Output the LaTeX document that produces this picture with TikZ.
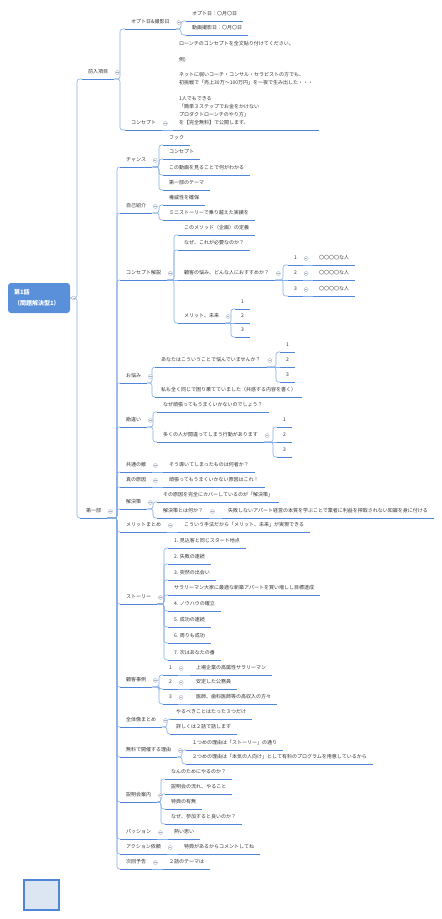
\documentclass[tikz,border=0pt]{standalone}
\usepackage{fontspec}
\setmainfont{Noto Sans CJK JP}
\usetikzlibrary{calc}
\definecolor{ublue}{HTML}{4F86D8}
\definecolor{cblue}{HTML}{86ADE6}
\definecolor{rootblue}{HTML}{5A8FDA}
\definecolor{txt}{HTML}{333333}
\definecolor{btngray}{HTML}{A9B4C6}
\definecolor{sqfill}{HTML}{DCE6F2}
\tikzset{
  tfont/.style={font=\fontsize{5}{7.9}\selectfont, text=txt},
  uline/.style={draw=ublue, line width=1pt},
  topic/.style={tfont, anchor=south west, inner xsep=6pt, inner ysep=5pt,
    text height=4.4pt, text depth=0.6pt,
    append after command={(\tikzlastnode.south west) edge[uline] (\tikzlastnode.south east)}},
  mtopic/.style={tfont, anchor=south west, inner xsep=6pt, inner ysep=5pt, align=left,
    append after command={(\tikzlastnode.south west) edge[uline] (\tikzlastnode.south east)}},
  conn/.style={draw=cblue, line width=0.6pt, rounded corners=2.5pt},
  rootbox/.style={fill=rootblue, rounded corners=3pt, minimum width=62pt, minimum height=30pt,
    text width=50pt, align=left, text=white, inner sep=0pt,
    font=\bfseries\fontsize{6}{11}\selectfont},
  pics/colbtn/.style={code={
    \draw[btngray, line width=0.4pt, fill=white] (0,0) circle[radius=2pt];
    \draw[btngray, line width=0.4pt] (-1.1pt,0) -- (1.1pt,0);}},
}
\newcommand\mmbtn[1]{\path (#1.south east) ++(3,-6.5) pic{colbtn};}
\newcommand\mmfork[3]{%
  \foreach \ch in {#3}{\draw[conn] (#1.south east) -- (#2,0 |- #1.south east) |- (\ch.south west);}%
  \mmbtn{#1}}
\newcommand\mmline[2]{\draw[conn] (#1.south east) -- (#2.south west);}
\newcommand\mmone[2]{\mmline{#1}{#2}\mmbtn{#1}}
\begin{document}
\begin{tikzpicture}[x=1pt,y=-1pt]
\useasboundingbox (0,0) rectangle (442,919);
% root
\node[rootbox] (root) at (39,298) {第1話\\（問題解決型1）};
% level 1
\node[topic] (a) at (82,79) {前入項目};
\node[topic] (b) at (80,518) {第一部};
% under a
\node[topic] (a1) at (125,29) {オプト日\&撮影日};
\node[topic] (a2) at (125,130) {コンセプト};
\node[topic] (a11) at (186,21) {オプト日：〇月〇日};
\node[topic] (a12) at (186,35) {動画撮影日：〇月〇日};
\node[mtopic] (a21) at (173,130) {ローンチのコンセプトを全文貼り付けてください。\\[7.9pt]
例)\\[7.9pt]
ネットに弱いコーチ・コンサル・セラピストの方でも、\\
初挑戦で「売上30万～100万円」を一夜で生み出した・・・\\[7.9pt]
1人でもできる\\
「簡単３ステップでお金をかけない\\
プロダクトローンチのやり方」\\
を【完全無料】で公開します。};
% under b
\node[topic] (c1) at (120,167) {チャンス};
\node[topic] (c1a) at (163,145) {フック};
\node[topic] (c1b) at (163,159) {コンセプト};
\node[topic] (c1c) at (163,175) {この動画を見ることで何がわかる};
\node[topic] (c1d) at (163,190) {第一部のテーマ};
\node[topic] (c2) at (120,213) {自己紹介};
\node[topic] (c2a) at (163,205) {権威性を確保};
\node[topic] (c2b) at (163,220) {ミニストーリーで乗り越えた実績を};
\node[topic] (c3) at (120,280) {コンセプト解説};
\node[topic] (c3a) at (178,235) {このメソッド（企画）の定義};
\node[topic] (c3b) at (178,250) {なぜ、これが必要なのか？};
\node[topic] (c3c) at (178,280) {顧客の悩み、どんな人におすすめか？};
\node[topic] (c3d) at (178,323) {メリット、未来};
\node[topic] (c3c1) at (288,265) {1};
\node[topic] (c3c2) at (288,280) {2};
\node[topic] (c3c3) at (288,296) {3};
\node[topic] (c3c1x) at (313,265) {〇〇〇〇な人};
\node[topic] (c3c2x) at (313,280) {〇〇〇〇な人};
\node[topic] (c3c3x) at (313,296) {〇〇〇〇な人};
\node[topic] (c3d1) at (235,309) {1};
\node[topic] (c3d2) at (235,323) {2};
\node[topic] (c3d3) at (235,337) {3};
\node[topic] (c4) at (120,383) {お悩み};
\node[topic] (c4a) at (155,367) {あなたはこういうことで悩んでいませんか？};
\node[topic] (c4b) at (155,397) {私も全く同じで困り果てていました（共感する内容を書く）};
\node[topic] (c4a1) at (280,352) {1};
\node[topic] (c4a2) at (280,367) {2};
\node[topic] (c4a3) at (280,382) {3};
\node[topic] (c5) at (120,427) {勘違い};
\node[topic] (c5a) at (157,412) {なぜ頑張ってもうまくいかないのでしょう？};
\node[topic] (c5b) at (157,442) {多くの人が間違ってしまう行動があります};
\node[topic] (c5b1) at (277,427) {1};
\node[topic] (c5b2) at (277,442) {2};
\node[topic] (c5b3) at (277,457) {3};
\node[topic] (c6) at (120,472) {共通の敵};
\node[topic] (c6a) at (163,472) {そう導いてしまったものは何者か？};
\node[topic] (c7) at (120,487) {真の原因};
\node[topic] (c7a) at (163,487) {頑張ってもうまくいかない原因はこれ！};
\node[topic] (c8) at (120,509) {解決策};
\node[topic] (c8a) at (157,502) {その原因を完全にカバーしているのが「解決策」};
\node[topic] (c8b) at (157,518) {解決策とは何か？};
\node[topic] (c8bx) at (222,518) {失敗しないアパート経営の本質を学ぶことで業者に利益を搾取されない知識を身に付ける};
\node[topic] (c9) at (120,532) {メリットまとめ};
\node[topic] (c9a) at (178,532) {こういう手法だから「メリット、未来」が実現できる};
\node[topic] (c10) at (120,604) {ストーリー};
\node[topic] (c10a) at (168,548) {1. 見込客と同じスタート地点};
\node[topic] (c10b) at (168,564) {2. 失敗の連続};
\node[topic] (c10c) at (168,580) {3. 突然の出会い};
\node[topic] (c10d) at (168,595) {サラリーマン大家に最適な新築アパートを買い増しし目標達成};
\node[topic] (c10e) at (168,611) {4. ノウハウの確立};
\node[topic] (c10f) at (168,627) {5. 成功の連続};
\node[topic] (c10g) at (168,643) {6. 周りも成功};
\node[topic] (c10h) at (168,660) {7. 次はあなたの番};
\node[topic] (c11) at (120,687) {顧客事例};
\node[topic] (c11a) at (163,675) {1};
\node[topic] (c11b) at (163,689) {2};
\node[topic] (c11c) at (163,704) {3};
\node[topic] (c11ax) at (190,675) {上場企業の高属性サラリーマン};
\node[topic] (c11bx) at (190,689) {安定した公務員};
\node[topic] (c11cx) at (190,704) {医師、歯科医師等の高収入の方々};
\node[topic] (c12) at (120,727) {全体像まとめ};
\node[topic] (c12a) at (170,719) {やるべきことはたった３つだけ};
\node[topic] (c12b) at (170,734) {詳しくは２話で話します};
\node[topic] (c13) at (120,757) {無料で開催する理由};
\node[topic] (c13a) at (186,750) {１つめの理由は「ストーリー」の通り};
\node[topic] (c13b) at (186,764) {２つめの理由は「本気の人向け」として有料のプログラムを用意しているから};
\node[topic] (c14) at (120,802) {説明会案内};
\node[topic] (c14a) at (165,779) {なんのためにやるのか？};
\node[topic] (c14b) at (165,794) {説明会の流れ、やること};
\node[topic] (c14c) at (165,809) {特典の有無};
\node[topic] (c14d) at (165,824) {なぜ、参加すると良いのか？};
\node[topic] (c15) at (120,839) {パッション};
\node[topic] (c15a) at (168,839) {熱い思い};
\node[topic] (c16) at (120,854) {アクション依頼};
\node[topic] (c16a) at (178,854) {特典があるからコメントしてね};
\node[topic] (c17) at (120,869) {次回予告};
\node[topic] (c17a) at (163,869) {２話のテーマは};
% connectors
\foreach \ch in {a,b}{\draw[conn] (root.east) -- (77,0 |- root.east) |- (\ch.south west);}
\path (root.east) ++(3.5,0) pic{colbtn};
\mmfork{a}{120}{a1,a2}
\mmfork{a1}{181}{a11,a12}
\mmone{a2}{a21}
\mmfork{b}{117}{c1,c2,c3,c4,c5,c6,c7,c8,c9,c10,c11,c12,c13,c14,c15,c16,c17}
\mmfork{c1}{159}{c1a,c1b,c1c,c1d}
\mmfork{c2}{159}{c2a,c2b}
\mmfork{c3}{174}{c3a,c3b,c3d}
\mmline{c3}{c3c}
\mmfork{c3c}{283}{c3c1,c3c3}
\mmline{c3c}{c3c2}
\mmone{c3c1}{c3c1x}
\mmone{c3c2}{c3c2x}
\mmone{c3c3}{c3c3x}
\mmfork{c3d}{231}{c3d1,c3d3}
\mmline{c3d}{c3d2}
\mmfork{c4}{152}{c4a,c4b}
\mmfork{c4a}{276}{c4a1,c4a3}
\mmline{c4a}{c4a2}
\mmfork{c5}{153}{c5a,c5b}
\mmfork{c5b}{273}{c5b1,c5b3}
\mmline{c5b}{c5b2}
\mmone{c6}{c6a}
\mmone{c7}{c7a}
\mmfork{c8}{153}{c8a,c8b}
\mmone{c8b}{c8bx}
\mmone{c9}{c9a}
\mmfork{c10}{164}{c10a,c10b,c10c,c10d,c10e,c10f,c10g,c10h}
\mmfork{c11}{159}{c11a,c11b,c11c}
\mmone{c11a}{c11ax}
\mmone{c11b}{c11bx}
\mmone{c11c}{c11cx}
\mmfork{c12}{167}{c12a,c12b}
\mmfork{c13}{182}{c13a,c13b}
\mmfork{c14}{161}{c14a,c14b,c14c,c14d}
\mmone{c15}{c15a}
\mmone{c16}{c16a}
\mmone{c17}{c17a}
% bottom square
\node[draw=ublue, line width=2pt, fill=sqfill, minimum width=35pt, minimum height=30pt, inner sep=0pt] (sq) at (41.5,895) {};
\end{tikzpicture}
\end{document}
